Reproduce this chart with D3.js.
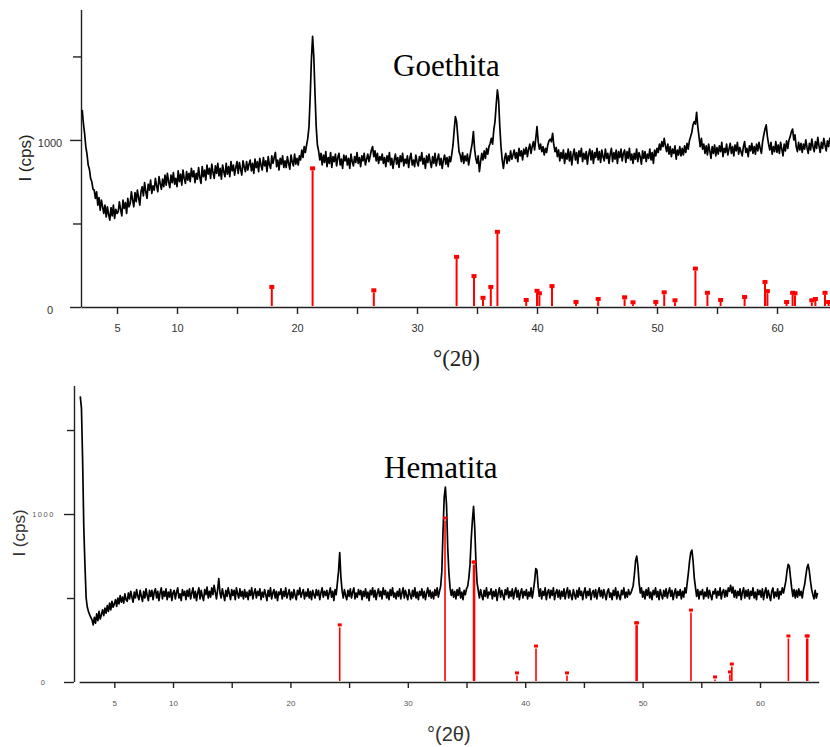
<!DOCTYPE html>
<html>
<head>
<meta charset="utf-8">
<script src="https://cdn.jsdelivr.net/npm/d3@7"></script>
<style>
  body { margin: 0; background: #fff; }
  svg { display: block; }
</style>
</head>
<body>
<svg id="chart" width="830" height="747"></svg>
<script>
// ---------------- DATA ----------------
const xTickValues = [5, 10, 15, 20, 25, 30, 35, 40, 45, 50, 55, 60];
const xTickLabels = [5, 10, 20, 30, 40, 50, 60];
const yTickValues = [0, 500, 1000, 1500];
const yTickLabels = [0, 1000];
const panelTitles = ["Goethita", "Hematita"];
const xAxisTitle = "°(2θ)";
const yAxisTitle = "I (cps)";

// measured patterns: first angle and angular step of the samples
const goeStart = 2.1, hemStart = 2.1, sampleStep = 0.1;

// Goethita measured intensity (cps), one value per 0.1° from 2.1°
const goeIntensity = [
 1180,1100,1040,960,915,850,825,770,750,705,
 700,650,690,610,655,580,640,600,560,610,
 540,600,555,520,595,545,610,530,585,560,
 570,630,585,545,640,590,625,560,650,600,
 620,690,640,600,685,630,700,655,610,690,
 720,665,745,690,650,735,700,760,680,725,
 700,770,725,690,780,740,705,765,720,790,
 730,800,750,715,790,745,805,735,770,720,
 815,750,795,730,820,770,740,810,760,800,
 750,830,780,815,745,800,765,835,775,740,
 840,780,820,760,850,795,830,770,855,805,
 770,845,800,860,785,830,765,850,810,780,
 860,795,840,780,870,815,850,790,835,870,
 800,865,825,790,875,840,810,870,820,855,
 880,815,860,800,885,835,870,810,890,850,
 820,895,845,875,810,900,850,830,905,860,
 895,925,840,880,820,890,855,905,835,875,
 835,900,860,825,910,870,845,915,855,890,
 850,905,880,940,895,960,925,970,1010,1080,
 1260,1480,1620,1500,1280,1080,970,935,880,920,
 850,910,865,930,840,895,860,925,835,900,
 870,915,845,895,920,850,885,830,910,875,
 905,850,890,830,915,870,845,900,865,925,
 860,895,840,905,875,920,850,885,915,870,
 905,940,960,900,935,875,920,860,900,880,
 915,860,895,840,905,870,925,850,890,830,
 880,915,855,895,835,905,870,920,845,885,
 860,905,835,890,920,850,880,840,910,870,
 845,900,875,925,855,890,830,905,865,915,
 870,835,900,860,920,845,885,915,850,890,
 830,880,910,855,895,840,900,870,915,970,
 1060,1140,1110,1020,930,910,870,925,860,905,
 875,915,850,895,940,980,1050,945,890,860,
 905,810,870,920,880,935,890,950,915,960,
 980,1010,975,1060,1110,1210,1300,1240,1080,960,
 880,830,890,920,860,905,875,935,885,910,
 940,890,925,870,950,905,935,880,945,915,
 955,900,945,975,920,960,990,940,1010,1080,
 990,945,975,930,960,910,950,925,970,995,
 1005,990,1040,970,930,955,900,940,875,925,
 890,940,860,920,885,945,875,930,850,910,
 945,880,925,860,935,900,950,870,920,885,
 930,855,915,945,880,935,860,925,895,950,
 880,930,865,940,900,875,945,890,920,860,
 915,950,870,925,885,940,860,930,895,945,
 875,920,940,865,930,890,950,880,915,860,
 920,885,945,870,925,900,855,935,890,930,
 870,915,890,945,880,925,860,940,905,950,
 925,975,940,990,960,1010,965,930,975,915,
 960,900,945,920,965,885,940,910,960,905,
 950,910,965,925,980,945,995,1020,1045,1090,
 1110,1095,1165,1080,1020,960,1010,945,975,920,
 965,910,975,935,890,960,920,970,905,955,
 915,965,930,985,900,950,925,975,910,945,
 980,920,960,905,970,935,985,915,955,930,
 905,960,990,925,950,900,965,935,980,920,
 960,915,975,935,985,950,920,990,1030,1065,
 1090,1020,975,940,985,915,960,930,990,925,
 970,920,985,945,905,975,935,995,950,1000,
 1020,1050,1065,1000,1030,960,930,985,940,980,
 925,975,945,1000,955,920,980,940,1005,960,
 930,990,950,1015,965,925,985,950,1010,970,
 935,995,960,1010,975
];

// Goethita reference lines (2θ, intensity)
const goeRefPos = [17.9, 21.3, 26.4, 33.3, 34.75, 35.5, 36.15, 36.7, 39.1, 40.0, 40.2, 41.25, 43.25, 45.1, 47.3, 48.0, 49.9, 50.6, 51.5, 53.2, 54.2, 55.3, 57.3, 59.0, 59.2, 60.8, 61.3, 61.5, 62.9, 63.2, 64.0, 64.3];
const goeRefInt = [120, 830, 100, 300, 185, 55, 120, 450, 42, 97, 82, 125, 30, 48, 58, 28, 30, 88, 40, 230, 85, 42, 60, 150, 95, 30, 85, 82, 40, 48, 85, 30];

// Hematita measured intensity (cps), one value per 0.1° from 2.1°
const hemIntensity = [
 1700,1630,1320,920,690,500,445,420,400,385,
 370,340,385,350,405,365,420,375,400,430,
 395,440,410,455,420,470,430,480,445,465,
 490,450,500,465,515,475,505,470,525,490,
 480,530,495,540,505,475,535,500,550,510,
 490,545,510,480,540,500,555,515,485,545,
 510,545,490,535,555,500,540,485,530,560,
 495,540,510,555,490,535,505,550,485,530,
 545,495,535,560,500,525,485,550,515,540,
 490,545,510,555,495,530,560,500,540,485,
 530,560,495,545,510,485,550,520,565,500,
 540,505,560,520,575,535,495,550,615,530,
 500,555,520,485,545,510,560,525,490,550,
 515,545,490,560,525,500,555,510,540,495,
 550,505,535,490,545,515,560,495,530,555,
 500,540,515,555,490,535,505,550,520,485,
 545,510,560,495,530,550,500,540,485,535,
 520,555,495,540,510,560,500,525,550,490,
 535,500,550,515,490,545,520,560,505,530,
 550,495,535,510,555,500,540,490,545,520,
 500,550,515,545,490,530,560,505,540,515,
 545,495,530,560,505,540,485,550,520,590,
 660,770,625,545,500,550,515,490,545,510,
 555,500,535,560,495,530,505,550,520,545,
 490,540,510,555,500,535,485,545,520,560,
 505,545,490,530,555,510,540,495,560,520,
 545,500,535,490,550,515,560,505,530,495,
 540,510,555,495,530,560,500,545,515,490,
 550,520,495,545,510,560,500,535,490,540,
 515,555,500,540,490,530,560,510,545,500,
 535,495,550,515,560,505,540,570,660,900,
 1100,1160,1050,800,650,560,515,550,505,540,
 495,550,515,560,500,535,490,545,520,555,
 570,620,700,850,960,1045,920,720,590,545,
 500,550,515,490,545,510,560,500,535,520,
 555,495,540,510,550,485,530,560,505,545,
 515,490,550,520,560,500,540,510,555,495,
 535,560,505,545,490,530,555,500,540,515,
 550,495,535,510,560,500,545,600,675,665,
 570,510,555,495,540,515,560,490,535,550,
 500,545,515,560,490,530,550,505,545,495,
 540,510,555,495,535,560,500,545,515,490,
 550,520,495,545,505,560,515,540,490,535,
 560,500,540,515,555,490,530,545,505,550,
 495,535,560,510,545,500,550,520,490,540,
 555,505,530,490,545,515,560,495,540,510,
 490,545,520,560,500,535,505,550,520,530,
 550,575,640,720,750,690,590,530,560,505,
 540,495,550,515,560,500,535,490,545,520,
 560,505,540,490,550,520,495,545,510,555,
 500,535,560,510,545,490,530,555,500,540,
 515,550,495,540,505,560,530,590,650,720,
 770,785,720,620,565,510,550,495,540,520,
 550,495,535,510,560,500,545,515,490,540,
 525,555,500,540,515,560,495,535,550,505,
 545,510,560,540,575,530,565,505,545,500,
 540,515,555,490,535,560,500,545,510,550,
 495,540,515,560,500,535,490,550,520,545,
 505,555,490,535,560,500,545,515,485,540,
 560,500,535,510,555,495,540,520,560,530,
 565,600,660,700,690,620,560,510,550,500,
 545,505,555,515,540,500,550,580,630,680,
 700,660,600,550,520,495,545,500,530
];

// Hematita reference lines (2θ, intensity)
const hemRefPos = [24.2, 33.17, 35.6, 35.68, 39.3, 40.92, 43.56, 49.45, 49.53, 54.12, 56.17, 57.44, 57.6, 62.42, 63.98, 64.06];
const hemRefInt = [340, 976, 714, 714, 54, 214, 54, 352, 352, 428, 30, 60, 107, 274, 274, 274];

// ---------------- DRAW ----------------
const svg = d3.select("#chart");

function drawPanel(cfg) {
  const g = svg.append("g");
  const x = d3.scaleLinear().domain(cfg.xDomain).range(cfg.xRange);
  const y = d3.scaleLinear().domain(cfg.yDomain).range(cfg.yRange);
  const base = cfg.yRange[0];

  // x axis
  const xa = g.append("g")
    .attr("transform", `translate(0,${base})`)
    .call(d3.axisBottom(x)
      .tickValues(xTickValues)
      .tickFormat(d => xTickLabels.includes(d) ? String(d) : "")
      .tickSize(cfg.xTickLen)
      .tickSizeOuter(0));
  xa.select(".domain").attr("stroke", cfg.axisColor).attr("stroke-width", 1.4);
  xa.selectAll(".tick line").attr("stroke", cfg.axisColor).attr("stroke-width", 1.4);
  xa.selectAll(".tick text")
    .attr("y", cfg.xLabelY).attr("dy", "0.71em")
    .attr("fill", cfg.labelColor)
    .style("font-family", "'Liberation Sans', Arial, sans-serif")
    .style("font-size", cfg.xLabelSize + "px");

  // y axis
  const ya = g.append("g")
    .attr("transform", `translate(${cfg.yAxisX},0)`)
    .call(d3.axisLeft(y)
      .tickValues(yTickValues)
      .tickFormat(d => yTickLabels.includes(d) ? String(d) : "")
      .tickSizeOuter(0));
  ya.select(".domain").attr("stroke", cfg.axisColor).attr("stroke-width", 1.4)
    .attr("d", `M0.5,${base}V${cfg.yAxisTop}`);
  ya.selectAll(".tick line")
    .attr("stroke", cfg.axisColor).attr("stroke-width", 1.4)
    .attr("x2", d => yTickLabels.includes(d) ? -cfg.yMajorLen : -cfg.yMinorLen);
  ya.selectAll(".tick text")
    .attr("x", cfg.yLabelX - cfg.yAxisX)
    .attr("dy", cfg.yLabelDy)
    .attr("text-anchor", "middle")
    .attr("fill", cfg.labelColor)
    .style("letter-spacing", cfg.yLabelSpacing + "px")
    .style("font-family", "'Liberation Sans', Arial, sans-serif")
    .style("font-size", cfg.yLabelSize + "px");

  // measured pattern
  const line = d3.line()
    .x((d, i) => x(cfg.start + i * sampleStep))
    .y(d => y(d));
  g.append("path")
    .datum(cfg.intensity)
    .attr("d", line)
    .attr("fill", "none")
    .attr("stroke", "#000")
    .attr("stroke-width", 1.7)
    .attr("stroke-linejoin", "round");

  // reference sticks
  const refs = cfg.refPos.map((p, i) => ({ p, v: cfg.refInt[i] }));
  const sg = g.append("g");
  sg.selectAll("line.stick").data(refs).join("line")
    .attr("class", "stick")
    .attr("x1", d => x(d.p)).attr("x2", d => x(d.p))
    .attr("y1", base - 1).attr("y2", d => y(d.v) + cfg.markerH / 2 + cfg.markerGap)
    .attr("stroke", "#ff0000")
    .attr("stroke-width", cfg.stickW);
  sg.selectAll("rect.mk").data(refs).join("rect")
    .attr("class", "mk")
    .attr("x", d => x(d.p) - cfg.markerW / 2)
    .attr("y", d => y(d.v) - cfg.markerH / 2)
    .attr("width", cfg.markerW).attr("height", cfg.markerH)
    .attr("fill", "#ff0000");

  // title
  g.append("text")
    .attr("x", cfg.titleX).attr("y", cfg.titleY)
    .style("font-family", "'Liberation Serif', 'Times New Roman', serif")
    .style("font-size", "31px")
    .attr("fill", "#000")
    .text(cfg.title);

  // axis titles
  g.append("text")
    .attr("transform", `translate(${cfg.yTitleX},${cfg.yTitleY}) rotate(-90)`)
    .attr("text-anchor", "middle")
    .attr("dominant-baseline", "central")
    .style("font-family", "'Liberation Sans', Arial, sans-serif")
    .style("font-size", "17px")
    .attr("fill", cfg.yTitleColor)
    .text(yAxisTitle);

  g.append("text")
    .attr("x", cfg.xTitleX).attr("y", cfg.xTitleY)
    .style("font-family", cfg.xTitleFont)
    .style("font-size", cfg.xTitleSize + "px")
    .attr("fill", cfg.yTitleColor)
    .text(xAxisTitle);
}

// Goethita (top)
drawPanel({
  title: panelTitles[0], titleX: 393, titleY: 76,
  xDomain: [2, 64.5], xRange: [81, 831],
  yDomain: [0, 1778], yRange: [307, 10],
  yAxisX: 81, yAxisTop: 10,
  xTickLen: 7, xLabelY: 17, xLabelSize: 11,
  yMajorLen: 11, yMinorLen: 8, yLabelX: 50, yLabelDy: "0.55em", yLabelSize: 11, yLabelSpacing: 0,
  axisColor: "#222", labelColor: "#333",
  start: goeStart, intensity: goeIntensity,
  refPos: goeRefPos, refInt: goeRefInt,
  stickW: 2, markerW: 5, markerH: 4, markerGap: 0,
  yTitleX: 25, yTitleY: 158, yTitleColor: "#222",
  xTitleX: 433, xTitleY: 366, xTitleSize: 23,
  xTitleFont: "'Liberation Serif', 'Times New Roman', serif"
});

// Hematita (bottom)
drawPanel({
  title: panelTitles[1], titleX: 384, titleY: 478,
  xDomain: [2, 65], xRange: [79.1, 818.7],
  yDomain: [0, 1768], yRange: [682, 385],
  yAxisX: 74, yAxisTop: 386,
  xTickLen: 6, xLabelY: 18, xLabelSize: 8,
  yMajorLen: 10, yMinorLen: 7, yLabelX: 43.5, yLabelDy: "0.35em", yLabelSize: 7.5, yLabelSpacing: 1.5,
  axisColor: "#222", labelColor: "#555",
  start: hemStart, intensity: hemIntensity,
  refPos: hemRefPos, refInt: hemRefInt,
  stickW: 1.6, markerW: 4, markerH: 3, markerGap: 1,
  yTitleX: 19, yTitleY: 533, yTitleColor: "#333",
  xTitleX: 427, xTitleY: 741, xTitleSize: 20,
  xTitleFont: "'Liberation Sans', Arial, sans-serif"
});
</script>
</body>
</html>
